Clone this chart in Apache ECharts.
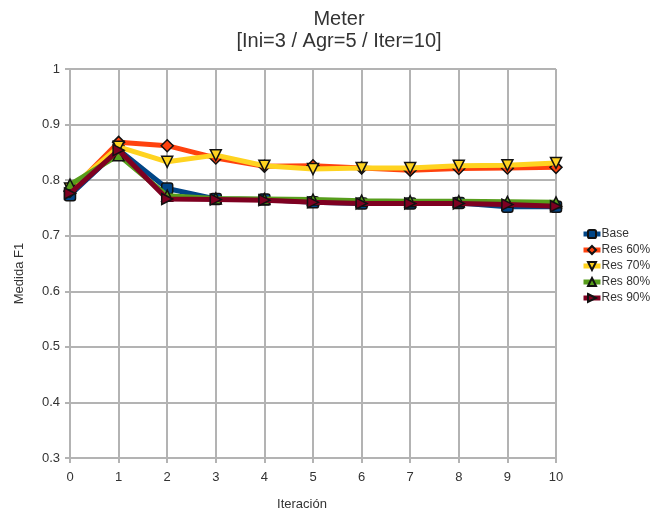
<!DOCTYPE html>
<html>
<head>
<meta charset="utf-8">
<script src="https://cdn.jsdelivr.net/npm/echarts@6/dist/echarts.min.js"></script>
<style>
  html, body { margin: 0; padding: 0; background: #fff; }
  #chart { width: 651px; height: 516px; }
</style>
</head>
<body>
<div id="chart"></div>
<script>
// Iterations on the x axis
const iterations = [0, 1, 2, 3, 4, 5, 6, 7, 8, 9, 10];

// F1 measure per iteration for each configuration
const base  = [0.773, 0.855, 0.785, 0.766, 0.765, 0.760, 0.758, 0.758, 0.759, 0.752, 0.752];
const res60 = [0.780, 0.868, 0.862, 0.840, 0.825, 0.826, 0.822, 0.818, 0.821, 0.822, 0.823];
const res70 = [0.785, 0.860, 0.833, 0.845, 0.826, 0.820, 0.822, 0.822, 0.826, 0.827, 0.831];
const res80 = [0.792, 0.845, 0.772, 0.767, 0.766, 0.765, 0.763, 0.762, 0.762, 0.761, 0.760];
const res90 = [0.776, 0.854, 0.766, 0.765, 0.764, 0.760, 0.758, 0.758, 0.758, 0.756, 0.753];

const seriesNames = ['Base', 'Res 60%', 'Res 70%', 'Res 80%', 'Res 90%'];
const colors = ['#004586', '#ff420e', '#ffd320', '#579d1c', '#7e0021'];
const symbols = [
  'path://M2,0 L8,0 Q10,0 10,2 L10,8 Q10,10 8,10 L2,10 Q0,10 0,8 L0,2 Q0,0 2,0 Z',
  'diamond',
  'path://M0,0 L10,0 L5,10 Z',
  'triangle',
  'path://M0,0 L10,5 L0,10 Z'
];
const values = [base, res60, res70, res80, res90];

const font = '"Liberation Sans", Arial, sans-serif';
const axisGray = '#b3b3b3';

const chart = echarts.init(document.getElementById('chart'), null, { renderer: 'canvas' });

chart.setOption({
  animation: false,
  textStyle: { fontFamily: font },
  title: {
    text: 'Meter\n[Ini=3 / Agr=5 / Iter=10]',
    left: 334,
    top: 3,
    textAlign: 'center',
    textStyle: { fontFamily: font, fontSize: 20, fontWeight: 'normal', color: '#333', lineHeight: 22 }
  },
  legend: {
    orient: 'vertical',
    left: 576,
    top: 223,
    itemGap: 4,
    itemWidth: 17,
    itemHeight: 10,
    textStyle: { fontFamily: font, fontSize: 12, color: '#333', padding: [0, 0, 0, -4] },
    data: seriesNames.map(n => ({ name: n, lineStyle: { width: 5 } }))
  },
  grid: { left: 70, right: 95, top: 69, bottom: 55, containLabel: false },
  xAxis: {
    type: 'value',
    min: 0,
    max: 10,
    interval: 1,
    name: 'Iteración',
    nameLocation: 'middle',
    nameGap: 40,
    nameTextStyle: { fontFamily: font, fontSize: 13, color: '#333', padding: [0, 22, 0, 0] },
    axisLine: { lineStyle: { color: axisGray, width: 2 } },
    axisTick: { show: true, length: 5, lineStyle: { color: axisGray, width: 2 } },
    axisLabel: { fontFamily: font, fontSize: 13, color: '#333', margin: 13 },
    splitLine: { show: true, lineStyle: { color: axisGray, width: 2 } }
  },
  yAxis: {
    type: 'value',
    min: 0.3,
    max: 1,
    interval: 0.1,
    name: 'Medida F1',
    nameLocation: 'middle',
    nameGap: 44,
    nameTextStyle: { fontFamily: font, fontSize: 13, color: '#333', padding: [0, 20, 0, 0] },
    axisLine: { show: true, lineStyle: { color: axisGray, width: 2 } },
    axisTick: { show: true, length: 5, lineStyle: { color: axisGray, width: 2 } },
    axisLabel: {
      fontFamily: font, fontSize: 13, color: '#333', margin: 10,
      formatter: v => String(Math.round(v * 10) / 10)
    },
    splitLine: { show: true, lineStyle: { color: axisGray, width: 2 } }
  },
  series: seriesNames.map((name, i) => ({
    name: name,
    type: 'line',
    data: iterations.map((x, j) => [x, values[i][j]]),
    symbol: symbols[i],
    symbolSize: i === 1 ? 12 : 11,
    showAllSymbol: true,
    lineStyle: { color: colors[i], width: 5 },
    itemStyle: { color: colors[i], borderColor: '#111', borderWidth: 1.5 },
    z: 2 + i
  }))
});
</script>
</body>
</html>
